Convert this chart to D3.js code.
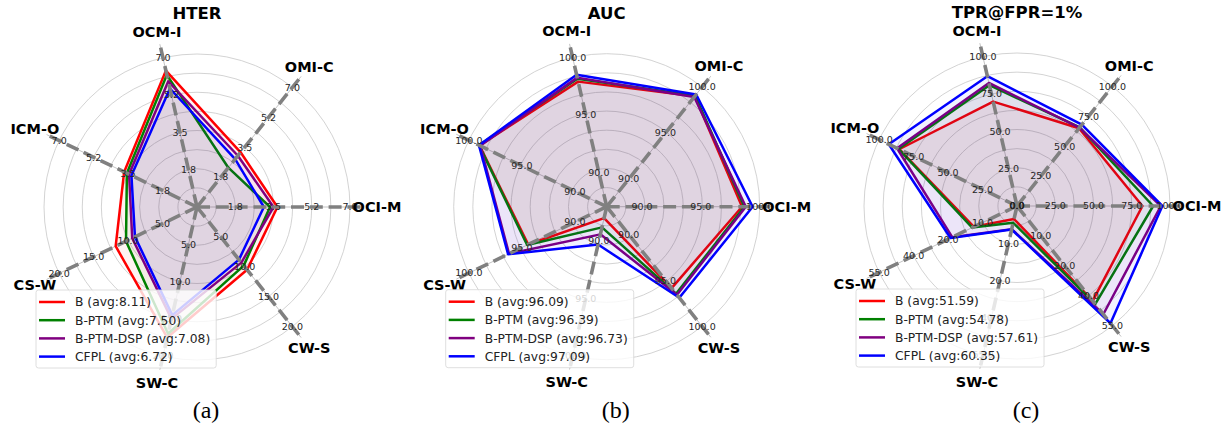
<!DOCTYPE html>
<html>
<head>
<meta charset="utf-8">
<script src="https://cdn.jsdelivr.net/npm/d3@7/dist/d3.min.js"></script>
<style>
    body { margin: 0; background: #fff; }
    svg { display: block; font-family: 'DejaVu Sans', sans-serif; }
</style>
</head>
<body>
<div class="chart"></div>
<script>
    /* data */
    const axisNames = ['OCI-M', 'OMI-C', 'OCM-I', 'ICM-O', 'CS-W', 'SW-C', 'CW-S'];
    const seriesNames = ['B', 'B-PTM', 'B-PTM-DSP', 'CFPL'];
    const seriesColors = ['#ff0000', '#008000', '#800080', '#0000ff'];

    // HTER
    const hterValues = [
        [3.68, 3.2, 6.4, 3.7, 11.8, 17.5, 10.5],
        [3.34, 2.3, 6.2, 3.56, 10.3, 17.0, 9.8],
        [3.5, 3.0, 5.9, 3.45, 9.4, 15.0, 9.3],
        [3.06, 2.8, 5.56, 3.33, 9.0, 14.5, 8.8]
    ];
    const hterAvg = ['8.11', '7.50', '7.08', '6.72'];
    const hterMicoDomain = [0, 7];
    const hterMicoTicks = [1.75, 3.5, 5.25, 7.0];
    const hterMicoLabels = ['1.8', '3.5', '5.2', '7.0'];
    const hterWcsDomain = [0, 20];
    const hterWcsTicks = [5, 10, 15, 20];

    // AUC
    const aucValues = [
        [98.5, 99.0, 97.9, 99.0, 94.4, 88.0, 95.85],
        [98.7, 99.05, 98.15, 99.05, 94.5, 88.8, 96.45],
        [98.82, 98.93, 98.25, 98.93, 96.21, 89.41, 96.58],
        [99.4, 99.2, 98.5, 99.05, 96.3, 90.3, 96.9]
    ];
    const aucAvg = ['96.09', '96.39', '96.73', '97.09'];
    const aucDomain = [87, 100];
    const aucTicks = [90, 95, 100];

    // TPR@FPR=1%
    const tprValues = [
        [82, 65, 70, 85.5, 12.5, 3.5, 42.6],
        [89, 65.8, 81, 86, 13, 4.5, 44.2],
        [94, 65.5, 82.5, 87, 18.8, 6.2, 49.3],
        [95, 68, 87, 93, 19.3, 6.3, 53.8]
    ];
    const tprAvg = ['51.59', '54.78', '57.61', '60.35'];
    const tprMicoDomain = [0, 100];
    const tprMicoTicks = [0, 25, 50, 75, 100];
    const tprWcsDomain = [0, 10, 20, 40, 55];
    const tprWcsTicks = [10, 20, 40, 55];

    /* layout */
    const W = 1223, H = 429;
    const R = 153;
    const nAxes = axisNames.length;
    const fmt = d3.format('.1f');

    const svg = d3.select('.chart').append('svg')
        .attr('width', W)
        .attr('height', H);

    function axisSpec(domain, ticks, labels) {
        return {
            domain: domain,
            ticks: ticks,
            labels: labels || ticks.map(fmt)
        };
    }

    const panels = [
        {
            cx: 197, cy: 207, title: 'HTER', caption: '(a)',
            values: hterValues, avg: hterAvg,
            axes: axisNames.map(function (d, i) {
                return i < 4 ? axisSpec(hterMicoDomain, hterMicoTicks, hterMicoLabels)
                    : axisSpec(hterWcsDomain, hterWcsTicks);
            })
        },
        {
            cx: 606.7, cy: 206.7, title: 'AUC', caption: '(b)',
            values: aucValues, avg: aucAvg,
            axes: axisNames.map(function () {
                return axisSpec(aucDomain, aucTicks);
            })
        },
        {
            cx: 1017, cy: 206, title: 'TPR@FPR=1%', caption: '(c)',
            values: tprValues, avg: tprAvg,
            axes: axisNames.map(function (d, i) {
                return i < 4 ? axisSpec(tprMicoDomain, tprMicoTicks)
                    : axisSpec(tprWcsDomain, tprWcsTicks);
            })
        }
    ];

    function angle(i) {
        return i * 2 * Math.PI / nAxes;
    }

    function drawRadar(p) {
        const g = svg.append('g')
            .attr('transform', 'translate(' + p.cx + ',' + p.cy + ')');

        // one scale per axis (stops spread evenly along the radius)
        const scales = p.axes.map(function (a) {
            return d3.scaleLinear()
                .domain(a.domain)
                .range(a.domain.map(function (d, i) {
                    return i * R / (a.domain.length - 1);
                }));
        });

        function pt(i, r) {
            return [r * Math.cos(angle(i)), -r * Math.sin(angle(i))];
        }

        /* grid circles */
        g.selectAll('.ring').data(d3.range(1, 9))
            .enter().append('circle')
            .attr('r', function (d) { return d * R / 8; })
            .attr('fill', 'none')
            .attr('stroke', '#c8c8c8')
            .attr('stroke-width', 0.8);

        /* thin spokes */
        g.selectAll('.spoke').data(d3.range(nAxes))
            .enter().append('line')
            .attr('x2', function (i) { return pt(i, 167)[0]; })
            .attr('y2', function (i) { return pt(i, 167)[1]; })
            .attr('stroke', '#b4b4b4')
            .attr('stroke-width', 0.8);

        /* series */
        const line = d3.line().curve(d3.curveLinearClosed);
        p.values.forEach(function (vals, s) {
            const pts = vals.map(function (v, i) {
                return pt(i, scales[i](v));
            });
            g.append('path')
                .attr('d', line(pts))
                .attr('fill', seriesColors[s])
                .attr('fill-opacity', 0.05)
                .attr('stroke', seriesColors[s])
                .attr('stroke-width', 2.5)
                .attr('stroke-linejoin', 'round');
        });

        /* dashed axes */
        g.selectAll('.dash').data(d3.range(nAxes))
            .enter().append('line')
            .attr('x2', function (i) { return pt(i, 167)[0]; })
            .attr('y2', function (i) { return pt(i, 167)[1]; })
            .attr('stroke', '#808080')
            .attr('stroke-width', 3.6)
            .attr('stroke-dasharray', '13,5.8');

        /* tick labels */
        p.axes.forEach(function (a, i) {
            g.selectAll('.tick-' + i).data(a.ticks)
                .enter().append('text')
                .attr('x', function (d) { return pt(i, scales[i](d))[0]; })
                .attr('y', function (d) { return pt(i, scales[i](d))[1]; })
                .attr('dy', '0.35em')
                .attr('text-anchor', 'middle')
                .style('font-size', '9.5px')
                .attr('fill', '#262626')
                .text(function (d, k) { return a.labels[k]; });
        });

        /* axis names */
        g.selectAll('.axis-name').data(axisNames)
            .enter().append('text')
            .attr('x', function (d, i) { return pt(i, 180)[0]; })
            .attr('y', function (d, i) { return pt(i, 180)[1]; })
            .attr('dy', '0.36em')
            .attr('text-anchor', 'middle')
            .style('font-size', '14.5px')
            .style('font-weight', 700)
            .text(function (d) { return d; });

        /* title */
        g.append('text')
            .attr('x', 0).attr('y', -188)
            .attr('text-anchor', 'middle')
            .style('font-size', '16.5px')
            .style('font-weight', 700)
            .text(p.title);

        /* legend */
        const legend = g.append('g')
            .attr('transform', 'translate(-161, 83)');
        const box = legend.append('rect')
            .attr('height', 78)
            .attr('rx', 2.5)
            .attr('fill', '#fff')
            .attr('fill-opacity', 0.8)
            .attr('stroke', '#d6d6d6')
            .attr('stroke-width', 0.8);
        const rows = legend.selectAll('.row').data(seriesNames)
            .enter().append('g')
            .attr('transform', function (d, i) {
                return 'translate(0,' + (12 + i * 18.2) + ')';
            });
        rows.append('line')
            .attr('x1', 3).attr('x2', 29)
            .attr('stroke', function (d, i) { return seriesColors[i]; })
            .attr('stroke-width', 2.5);
        rows.append('text')
            .attr('x', 39)
            .attr('dy', '0.36em')
            .style('font-size', '12.3px')
            .attr('fill', '#222')
            .text(function (d, i) { return d + ' (avg:' + p.avg[i] + ')'; });
        let maxW = 0;
        rows.selectAll('text').each(function () {
            maxW = Math.max(maxW, this.getComputedTextLength());
        });
        box.attr('width', 39 + maxW + 6);

        /* caption */
        svg.append('text')
            .attr('x', p.cx + 9)
            .attr('y', 418)
            .attr('text-anchor', 'middle')
            .style('font-family', "'Liberation Serif', serif")
            .style('font-size', '24px')
            .text(p.caption);
    }

    panels.forEach(drawRadar);
</script>
</body>
</html>
